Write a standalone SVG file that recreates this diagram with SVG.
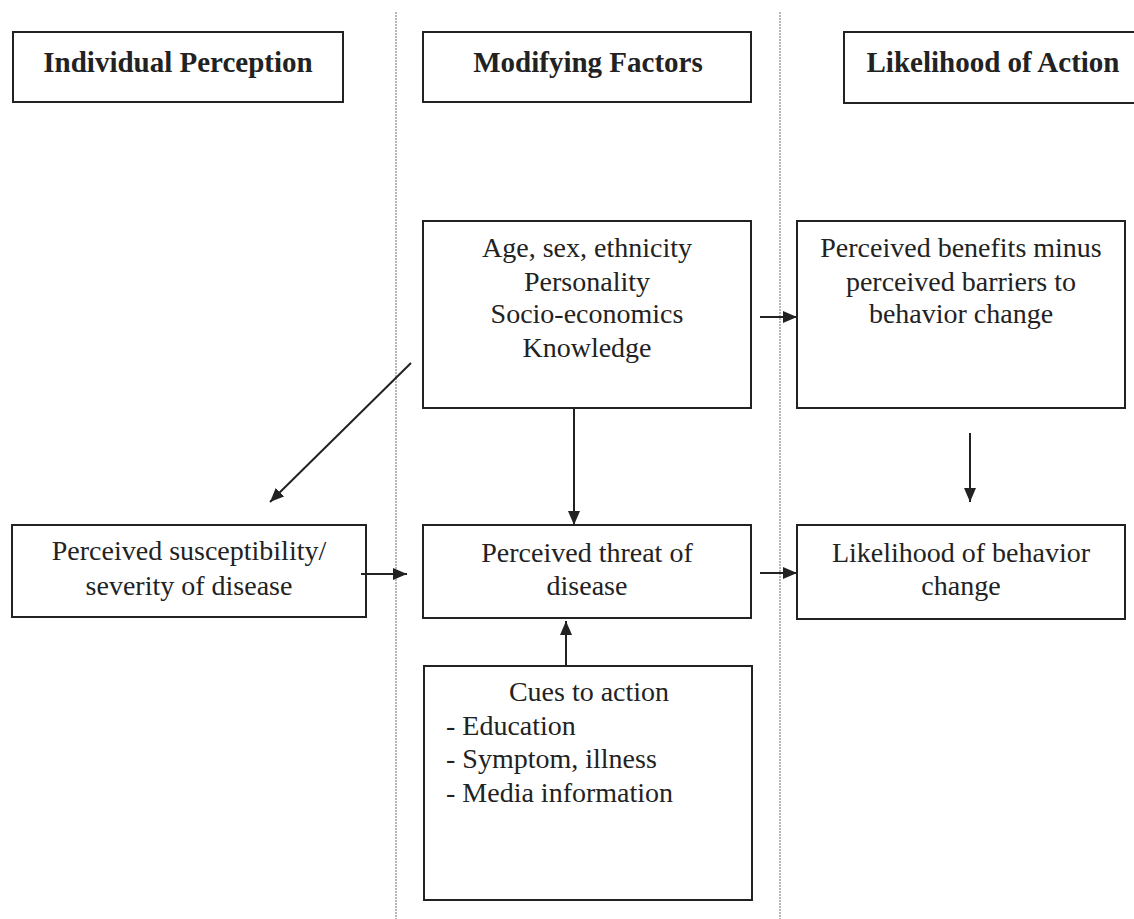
<svg xmlns="http://www.w3.org/2000/svg" width="1134" height="919" viewBox="0 0 1134 919">
<style>
.box{fill:#fff;stroke:#222;stroke-width:2}
.t{font-family:"Liberation Serif",serif;font-size:28px;fill:#222;text-anchor:middle}
.h{font-family:"Liberation Serif",serif;font-size:29px;font-weight:bold;fill:#222;text-anchor:middle}
.l{font-family:"Liberation Serif",serif;font-size:28px;fill:#222}
.sep{stroke:#888;stroke-width:1.2;stroke-dasharray:2 1}
.c{stroke:#222;stroke-width:2;fill:none;marker-end:url(#ah)}
</style>
<defs>
<marker id="ah" viewBox="0 0 14 12" refX="14" refY="6" markerWidth="14" markerHeight="12" markerUnits="userSpaceOnUse" orient="auto">
<path d="M0,0 L14,6 L0,12 z" fill="#222"/>
</marker>
</defs>
<rect width="1134" height="919" fill="#fff"/>
<g id="separators">
<line class="sep" x1="396" y1="12" x2="396" y2="919"/>
<line class="sep" x1="780" y1="12" x2="780" y2="919"/>
</g>
<g id="h1"><rect class="box" x="13" y="32" width="330" height="70"/><text class="h" x="178" y="72">Individual Perception</text></g>
<g id="h2"><rect class="box" x="423" y="32" width="328" height="70"/><text class="h" x="588" y="72">Modifying Factors</text></g>
<g id="h3"><rect class="box" x="844" y="32" width="300" height="71"/><text class="h" x="993" y="72">Likelihood of Action</text></g>
<g id="modifying"><rect class="box" x="423" y="221" width="328" height="187"/>
<text class="t" x="587" y="257">Age, sex, ethnicity</text>
<text class="t" x="587" y="291">Personality</text>
<text class="t" x="587" y="323">Socio-economics</text>
<text class="t" x="587" y="357">Knowledge</text></g>
<g id="benefits"><rect class="box" x="797" y="221" width="328" height="187"/>
<text class="t" x="961" y="257">Perceived benefits minus</text>
<text class="t" x="961" y="291">perceived barriers to</text>
<text class="t" x="961" y="323">behavior change</text></g>
<g id="susceptibility"><rect class="box" x="12" y="525" width="354" height="92"/>
<text class="t" x="189" y="560">Perceived susceptibility/</text>
<text class="t" x="189" y="595">severity of disease</text></g>
<g id="threat"><rect class="box" x="423" y="525" width="328" height="93"/>
<text class="t" x="587" y="562">Perceived threat of</text>
<text class="t" x="587" y="595">disease</text></g>
<g id="likelihood"><rect class="box" x="797" y="525" width="328" height="94"/>
<text class="t" x="961" y="562">Likelihood of behavior</text>
<text class="t" x="961" y="595">change</text></g>
<g id="cues"><rect class="box" x="424" y="666" width="328" height="234"/>
<text class="t" x="589" y="701">Cues to action</text>
<text class="l" x="446" y="735">- Education</text>
<text class="l" x="446" y="768">- Symptom, illness</text>
<text class="l" x="446" y="802">- Media information</text></g>
<g id="connectors">
<line class="c" x1="760" y1="317" x2="797" y2="317"/>
<line class="c" x1="970" y1="433" x2="970" y2="502"/>
<line class="c" x1="760" y1="573" x2="797" y2="573"/>
<line class="c" x1="361" y1="574" x2="407" y2="574"/>
<line class="c" x1="411" y1="363" x2="270" y2="502"/>
<line class="c" x1="574" y1="408" x2="574" y2="525"/>
<line class="c" x1="566" y1="666" x2="566" y2="621"/>
</g>
</svg>
